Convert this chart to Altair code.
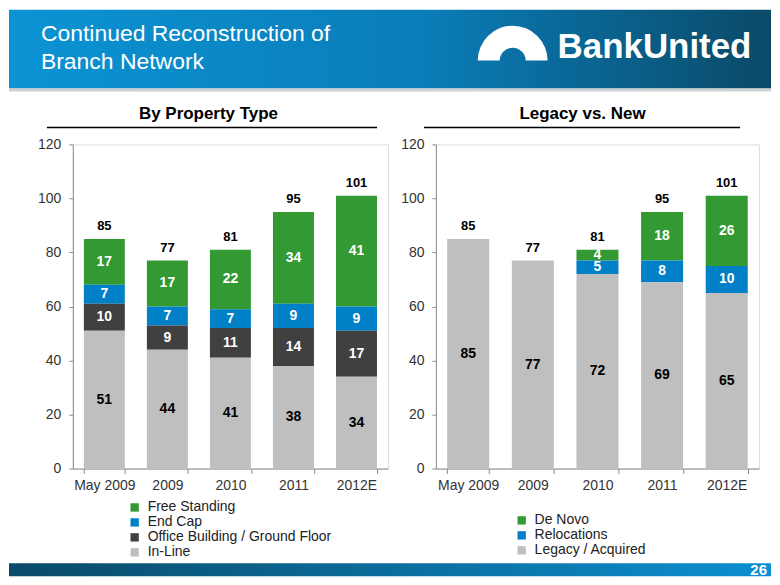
import altair as alt
import pandas as pd

# ---------------- data ----------------
categories = ["May 2009", "2009", "2010", "2011", "2012E"]

in_line = [51, 44, 41, 38, 34]
office_building = [10, 9, 11, 14, 17]
end_cap = [7, 7, 7, 9, 9]
free_standing = [17, 17, 22, 34, 41]

legacy_acquired = [85, 77, 72, 69, 65]
relocations = [0, 0, 5, 8, 10]
de_novo = [0, 0, 4, 18, 26]

left_series = ["Free Standing", "End Cap", "Office Building / Ground Floor", "In-Line"]
left_colors = ["#339933", "#0080c6", "#404040", "#bfbfbf"]
right_series = ["De Novo", "Relocations", "Legacy / Acquired"]
right_colors = ["#339933", "#0080c6", "#bfbfbf"]
y_ticks = [0, 20, 40, 60, 80, 100, 120]

slide_title = "Continued Reconstruction of\nBranch Network"
logo_text = "BankUnited"
page_number = "26"
left_title = "By Property Type"
right_title = "Legacy vs. New"

FONT = "Liberation Sans"


def long_df(series_names, series_values):
    rows = []
    n = len(series_names)
    for i, (name, vals) in enumerate(zip(series_names, series_values)):
        for c, v in zip(categories, vals):
            rows.append({"cat": c, "series": name, "value": v, "rank": n - 1 - i})
    return pd.DataFrame(rows)


df_left = long_df(left_series, [free_standing, end_cap, office_building, in_line])
df_right = long_df(right_series, [de_novo, relocations, legacy_acquired])

x_enc = alt.X(
    "cat:N",
    sort=categories,
    scale=alt.Scale(paddingInner=0.35, paddingOuter=0.175),
    axis=alt.Axis(
        title=None, labelAngle=0, tickBand="extent", labelFontSize=14,
        labelColor="#333333", domainColor="#8c8c8c", tickColor="#8c8c8c",
        tickSize=5, labelPadding=5, labelFont=FONT,
    ),
)


def y_enc(field):
    return alt.Y(
        field,
        scale=alt.Scale(domain=[0, 120]),
        axis=alt.Axis(
            title=None, values=y_ticks, grid=False, labelFontSize=14,
            labelColor="#333333", domainColor="#8c8c8c", tickColor="#8c8c8c",
            tickSize=4, labelPadding=8, labelFont=FONT,
        ),
    )


def panel(df, series, colors, dark_label_series, title, title_x, rule_x1, rule_x2,
          legend_x, legend_y):
    base = alt.Chart(df).transform_stack(
        stack="value", groupby=["cat"], as_=["y0", "y1"],
        sort=[alt.SortField("rank", order="ascending")],
    ).transform_calculate(mid="(datum.y0 + datum.y1) / 2")

    bars = base.mark_bar().encode(
        x=x_enc,
        y=y_enc("y0:Q"),
        y2="y1:Q",
        color=alt.Color(
            "series:N",
            scale=alt.Scale(domain=series, range=colors),
            legend=alt.Legend(
                orient="none", legendX=legend_x, legendY=legend_y, title=None,
                symbolType="square", symbolSize=70, symbolStrokeWidth=0,
                labelFontSize=14, labelColor="#222222", labelFont=FONT,
                rowPadding=1, padding=0, labelOffset=6, labelLimit=400,
            ),
        ),
    )

    white_labels = base.transform_filter(
        f"datum.value > 0 && datum.series != '{dark_label_series}'"
    ).mark_text(fontWeight="bold", fontSize=14, color="white", font=FONT).encode(
        x=alt.X("cat:N", sort=categories), y=alt.Y("mid:Q"), text="value:Q"
    )
    dark_labels = base.transform_filter(
        f"datum.value > 0 && datum.series == '{dark_label_series}'"
    ).mark_text(fontWeight="bold", fontSize=14, color="black", font=FONT).encode(
        x=alt.X("cat:N", sort=categories), y=alt.Y("mid:Q"), text="value:Q"
    )
    totals = alt.Chart(df).transform_aggregate(
        total="sum(value)", groupby=["cat"]
    ).mark_text(fontWeight="bold", fontSize=13, color="black", baseline="bottom",
                dy=-6, font=FONT).encode(
        x=alt.X("cat:N", sort=categories), y=alt.Y("total:Q"), text="total:Q"
    )

    title_mark = alt.Chart(pd.DataFrame({"t": [title]})).mark_text(
        fontSize=17, fontWeight="bold", align="center", baseline="alphabetic",
        color="black", font=FONT,
    ).encode(x=alt.value(title_x), y=alt.value(-25), text="t:N")
    underline = alt.Chart(pd.DataFrame({"t": [title]})).mark_rule(
        color="black", strokeWidth=1.5
    ).encode(x=alt.value(rule_x1), x2=alt.value(rule_x2), y=alt.value(-17))

    return [bars, white_labels, dark_labels, totals, title_mark, underline]


left_layers = panel(df_left, left_series, left_colors, "In-Line", left_title,
                    136, -26, 305, 55, 357)
right_layers = panel(df_right, right_series, right_colors, "Legacy / Acquired", right_title,
                     147, -12, 305, 79, 370)

# ---------------- slide decoration (in left panel coordinates) ----------------
deco = pd.DataFrame({"t": [slide_title]})
banner = alt.Chart(deco).mark_rect(
    color=alt.Gradient(
        gradient="linear",
        stops=[alt.GradientStop(color="#0b93d4", offset=0),
               alt.GradientStop(color="#0a7db8", offset=0.55),
               alt.GradientStop(color="#0a4a68", offset=1)],
        x1=0, x2=1, y1=0, y2=0,
    )
).encode(x=alt.value(-64), x2=alt.value(700), y=alt.value(-135), y2=alt.value(-56))
shadow = alt.Chart(deco).mark_rect(color="#d0d0d0").encode(
    x=alt.value(-64), x2=alt.value(700), y=alt.value(-56), y2=alt.value(-53))
title_text = alt.Chart(deco).mark_text(
    color="white", fontSize=23, align="left", baseline="alphabetic",
    lineBreak="\n", lineHeight=28, font=FONT,
).encode(x=alt.value(-32), y=alt.value(-104), text="t:N")
logo_arch = alt.Chart(deco).mark_arc(
    color="white", theta=4.7124, theta2=7.8540, radius=35, radius2=13
).encode(x=alt.value(441), y=alt.value(-84))
logo = alt.Chart(pd.DataFrame({"t": [logo_text]})).mark_text(
    color="white", fontSize=35, fontWeight="bold", align="left",
    baseline="alphabetic", font=FONT,
).encode(x=alt.value(486), y=alt.value(-87), text="t:N")
footer = alt.Chart(deco).mark_rect(
    color=alt.Gradient(
        gradient="linear",
        stops=[alt.GradientStop(color="#0a4a68", offset=0),
               alt.GradientStop(color="#0b8fd0", offset=1)],
        x1=0, x2=1, y1=0, y2=0,
    )
).encode(x=alt.value(-64), x2=alt.value(700), y=alt.value(420), y2=alt.value(433))
footer_text = alt.Chart(pd.DataFrame({"t": [page_number]})).mark_text(
    color="white", fontSize=15, fontWeight="bold", align="right",
    baseline="alphabetic", font=FONT,
).encode(x=alt.value(696), y=alt.value(432), text="t:N")

left = alt.layer(
    banner, shadow, title_text, logo_arch, logo, footer, footer_text, *left_layers
).properties(width=316, height=325)
right = alt.layer(*right_layers).properties(width=324, height=325)

chart = alt.hconcat(left, right, spacing=48, bounds="flush").resolve_scale(
    color="independent"
).properties(padding=0).configure_view(stroke=None).configure(font=FONT)

chart.save("out.html", embed_options={"renderer": "svg", "actions": False})
